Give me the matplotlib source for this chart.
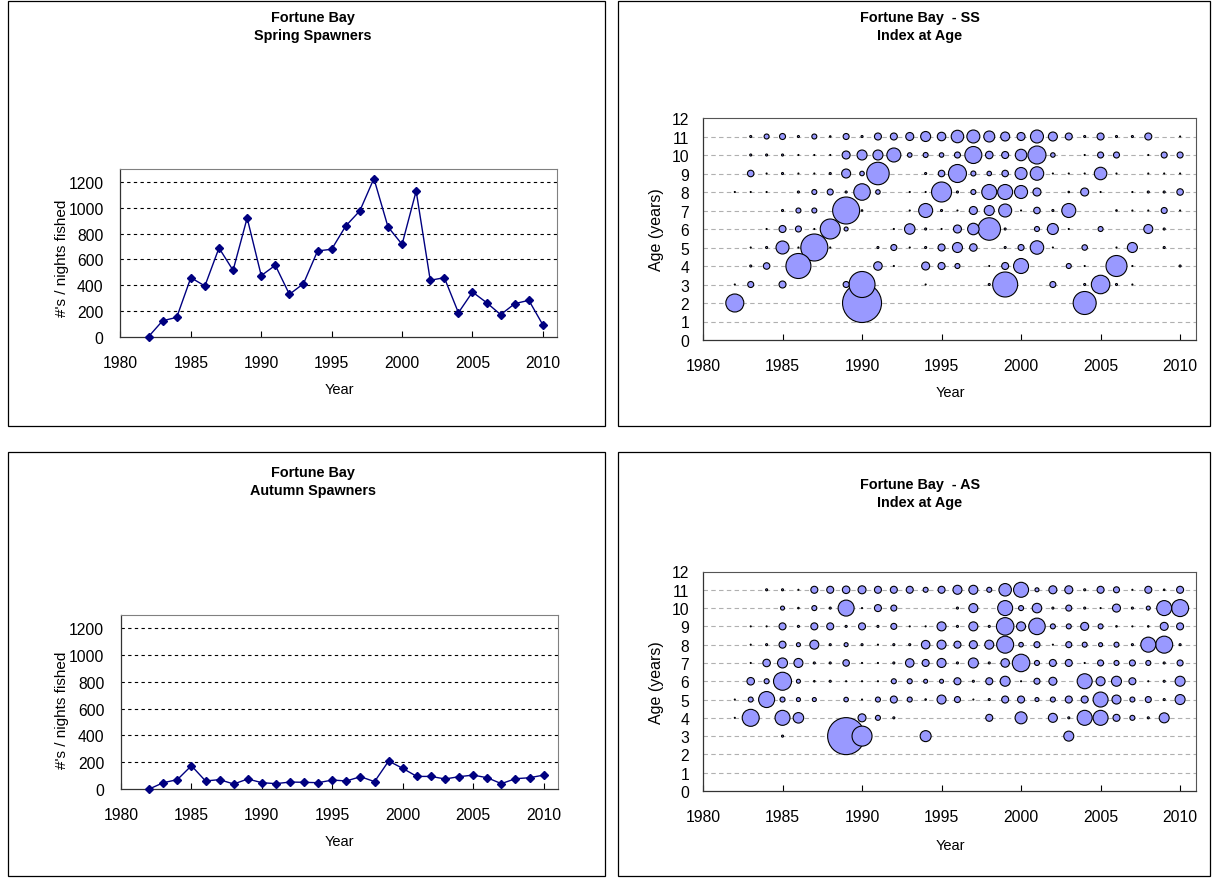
import matplotlib
matplotlib.use("Agg")
import matplotlib.pyplot as plt
from matplotlib.patches import Rectangle

plt.rcParams['font.family'] = ['Liberation Sans', 'DejaVu Sans']

# ---------------------------------------------------------------- data
years = list(range(1982, 2011))

# catch rate (#'s / nights fished)
spring_cpue = [3, 126, 152, 459, 395, 689, 516, 921, 475, 555, 330, 413, 666, 679,
               859, 976, 1226, 852, 717, 1130, 439, 459, 188, 348, 266, 173, 258, 284, 93]
autumn_cpue = [0, 47, 70, 174, 60, 70, 37, 75, 47, 40, 52, 50, 47, 67, 60, 92, 55,
               209, 154, 94, 94, 75, 92, 104, 84, 40, 77, 84, 104]

# spring spawners: index at age, 1982-2010
ss_age11 = [0, 2, 5, 6, 2, 5, 1.5, 6, 2, 7, 7, 8, 10, 8.5, 12.5, 13, 11, 9, 8, 13, 9, 7, 2, 7, 2, 2, 7, 0, 1]
ss_age10 = [0, 2, 2, 2, 1, 1, 1, 8, 10, 10, 14, 4.5, 5, 4.5, 6, 17, 7.5, 7, 11.5, 18, 4.5, 0, 1, 6, 6, 0, 1, 6, 6]
ss_age9 = [0, 6.5, 1, 2, 1, 1, 2, 9, 4.5, 22.5, 0, 0, 2, 6.5, 18, 5, 4.5, 6.5, 12, 13.5, 1, 1, 1, 12.5, 1, 0, 1, 1, 1]
ss_age8 = [1, 1, 1, 0, 2, 5, 6, 2, 16.5, 4.5, 0, 1, 1, 20, 2, 5, 15, 15, 13, 8, 0, 1.5, 8, 1, 0, 1, 2, 2, 6.5]
ss_age7 = [0, 0, 0, 2, 5, 5, 0, 27, 1.5, 0, 0, 1, 14, 2, 1, 8, 10, 13, 1, 6.5, 2, 14, 0, 0, 1.5, 1, 1, 6, 1]
ss_age6 = [0, 0, 1, 7, 6, 1, 20, 4, 0, 0, 1, 10.5, 2, 1, 8, 11.5, 22.5, 2, 0, 5, 11, 1, 0, 5, 0, 0, 9, 2, 0]
ss_age5 = [0, 1, 2, 13, 1, 27, 1, 0, 0, 2, 6, 1, 2, 7, 10, 7.5, 0, 2, 6, 13.5, 1, 0, 5.5, 0, 1, 10, 0, 2, 0]
ss_age4 = [0, 2, 6.5, 0, 25, 0, 0, 0, 0, 8.5, 1, 0, 8, 7, 5, 0, 1, 7, 15, 0, 0, 5, 1, 0, 21, 1, 0, 0, 2]
ss_age3 = [1, 6, 0, 7, 0, 0, 0, 6, 26, 0, 0, 0, 1, 0, 0, 0, 2, 25, 0, 0, 6, 0, 2, 18.5, 2, 1, 0, 0, 0]
ss_age2 = [18, 0, 0, 0, 0, 0, 0, 0, 39, 0, 0, 0, 0, 0, 0, 0, 0, 0, 0, 0, 0, 0, 23, 0, 0, 0, 0, 0, 0]

# autumn spawners: index at age, 1982-2010
as_age11 = [0, 0, 2, 2, 1, 7, 7, 7.5, 8, 7, 7, 7, 5, 7, 9, 9, 5, 12.5, 15, 4, 8, 8, 2, 7, 6, 1, 7, 1.5, 7]
as_age10 = [0, 0, 0, 4, 1.5, 5, 2, 16, 1, 7, 6, 0, 0, 0, 2, 9, 0, 15, 5, 9.5, 2, 6, 2, 1, 8, 2, 4, 15, 17]
as_age9 = [0, 1, 1, 7, 2, 7, 7, 2, 7, 2, 6, 1, 1, 9, 2, 9, 2, 17.5, 9, 16.5, 5, 5, 8, 5, 1.5, 1, 1.5, 8, 7]
as_age8 = [0, 1, 2, 7, 4, 9, 2, 4, 2, 1, 2, 2, 8.5, 9, 7, 8, 9, 17, 4.5, 6, 1, 6, 5, 4, 5, 2, 15, 17, 2]
as_age7 = [0, 1, 7.5, 10, 9, 2, 2, 6.5, 1, 1, 2, 8.5, 7, 9, 2, 10, 2, 8.5, 17.5, 5, 7, 7, 1, 6, 5, 6, 5, 2, 6]
as_age6 = [0, 7.5, 5, 18, 4, 1.5, 2, 1, 1, 1, 5, 5, 4, 4, 7, 2, 7, 10, 1, 6, 8, 0, 15, 9, 10, 7, 1, 2, 10]
as_age5 = [1, 5, 16, 5, 4, 4, 0, 4.5, 1, 5, 7, 5, 1.5, 9, 6, 1, 2, 7, 7, 4, 5, 7, 7, 15, 9, 5, 6, 2, 10]
as_age4 = [1, 17, 0, 15, 10.5, 0, 0, 0, 8, 5, 2, 0, 0, 0, 0, 0, 7, 0, 12, 0, 9, 2, 15, 15, 7, 5, 2, 10, 0]
as_age3 = [0, 0, 0, 2, 0, 0, 0, 37, 20, 0, 0, 0, 11, 0, 0, 0, 0, 0, 0, 0, 0, 10, 0, 0, 0, 0, 0, 0, 0]

ss_by_age = {11: ss_age11, 10: ss_age10, 9: ss_age9, 8: ss_age8, 7: ss_age7,
             6: ss_age6, 5: ss_age5, 4: ss_age4, 3: ss_age3, 2: ss_age2}
as_by_age = {11: as_age11, 10: as_age10, 9: as_age9, 8: as_age8, 7: as_age7,
             6: as_age6, 5: as_age5, 4: as_age4, 3: as_age3}

# ---------------------------------------------------------------- layout helpers
W, H = 1213, 879
fig = plt.figure(figsize=(W / 100, H / 100), dpi=100)

def frac(x0, y0, x1, y1):
    return [x0 / W, 1 - y1 / H, (x1 - x0) / W, (y1 - y0) / H]

def chart_box(x0, y0, x1, y1):
    fig.patches.append(Rectangle((x0 / W, 1 - y1 / H), (x1 - x0) / W, (y1 - y0) / H,
                                 transform=fig.transFigure, fill=False,
                                 edgecolor='black', linewidth=0.9))

def label(x, y, s, **kw):
    fig.text(x / W, 1 - y / H, s, ha='center', va='center', **kw)

TITLE = dict(fontsize=10.4, fontweight='bold')
XT = dict(fontsize=10.5)
TICK = 11.3

def style_frame(ax, side_color):
    for k in ('top', 'right'):
        ax.spines[k].set_color(side_color)
        ax.spines[k].set_linewidth(0.8)
    for k in ('left', 'bottom'):
        ax.spines[k].set_color('#333333')
        ax.spines[k].set_linewidth(0.9)

def line_panel(box, plot, t1, t2, ty, values, ylab_pos, xlab_pos):
    chart_box(*box)
    cx = (box[0] + box[2]) / 2 + 6
    label(cx, ty, t1, **TITLE)
    label(cx, ty + 18, t2, **TITLE)
    ax = fig.add_axes(frac(*plot))
    ax.set_xlim(1980, 2011)
    ax.set_ylim(0, 1300)
    ax.set_xticks(range(1980, 2011, 5))
    ax.set_yticks(range(0, 1201, 200))
    for v in range(200, 1201, 200):
        ax.axhline(v, color='black', lw=0.8, ls=(0, (3, 3)), zorder=1)
    ax.plot(years, values, color='#000080', lw=1.0, marker='D', ms=4.2,
            mfc='#000080', mec='#000080', clip_on=False, zorder=3)
    ax.tick_params(axis='x', direction='in', length=4, width=0.8, pad=13, labelsize=TICK)
    ax.tick_params(axis='y', length=0, pad=12, labelsize=TICK)
    style_frame(ax, '#808080')
    label(*ylab_pos, "#'s / nights fished", rotation=90, fontsize=11)
    label(*xlab_pos, "Year", **XT)

def bubble_panel(box, plot, t1, t2, ty, by_age, ylab_pos, xlab_pos):
    chart_box(*box)
    cx = (box[0] + box[2]) / 2 + 6
    label(cx, ty, t1, **TITLE)
    label(cx, ty + 18, t2, **TITLE)
    ax = fig.add_axes(frac(*plot))
    ax.set_xlim(1980, 2011)
    ax.set_ylim(0, 12)
    ax.set_xticks(range(1980, 2011, 5))
    ax.set_yticks(range(0, 13))
    for a in range(1, 12):
        ax.axhline(a, color='#b0b0b0', lw=0.8, ls=(0, (4, 3)), zorder=1)
    pts = [(yr, age, v) for age, vals in by_age.items()
           for yr, v in zip(years, vals) if v > 0]
    pts.sort(key=lambda p: -p[2])
    xs = [p[0] for p in pts]
    ys = [p[1] for p in pts]
    sz = [(p[2] * 0.72) ** 2 for p in pts]
    ax.scatter(xs, ys, s=sz, c='#9999ff', edgecolors='black', linewidths=0.8,
               zorder=3, clip_on=False)
    ax.tick_params(axis='x', direction='in', length=4, width=0.8, pad=13, labelsize=TICK)
    ax.tick_params(axis='y', length=0, pad=10, labelsize=TICK)
    style_frame(ax, '#555555')
    label(*ylab_pos, "Age (years)", rotation=90, fontsize=11.5)
    label(*xlab_pos, "Year", **XT)

# ---------------------------------------------------------------- panels
line_panel((8, 2, 605, 427), (120.4, 170, 557, 338), "Fortune Bay", "Spring Spawners", 18,
           spring_cpue, (62, 258), (339, 390))
bubble_panel((618, 2, 1210, 427), (703, 119, 1196, 341), "Fortune Bay  - SS", "Index at Age", 18,
             ss_by_age, (656, 230), (950, 393))
line_panel((8, 453, 605, 877), (121, 616, 557.7, 790), "Fortune Bay", "Autumn Spawners", 473,
           autumn_cpue, (62, 710), (339, 842))
bubble_panel((618, 453, 1210, 877), (703, 572.5, 1196, 792), "Fortune Bay  - AS", "Index at Age", 485,
             as_by_age, (656, 683), (950, 846))

fig.savefig("out.png", dpi=100, facecolor='white')
